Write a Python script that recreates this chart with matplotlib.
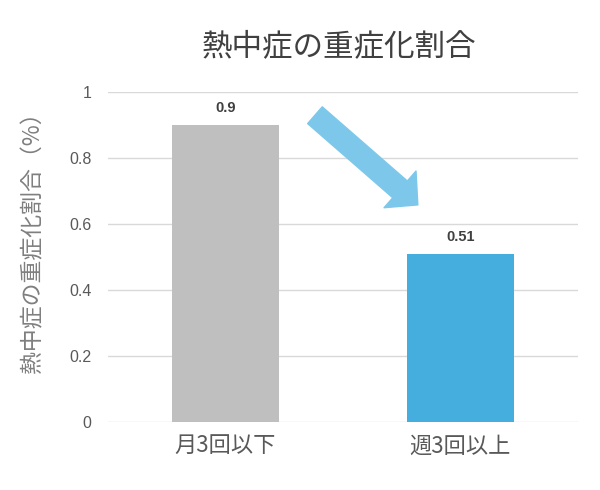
import numpy as np
import matplotlib
matplotlib.use("Agg")
import matplotlib.pyplot as plt
from matplotlib.patches import FancyArrowPatch

categories = ["月3回以下", "週3回以上"]
values = [0.9, 0.51]
value_labels = ["0.9", "0.51"]
bar_colors = ["#BFBFBF", "#45AEDF"]
yticks = [0, 0.2, 0.4, 0.6, 0.8, 1]
ytick_labels = ["0", "0.2", "0.4", "0.6", "0.8", "1"]
title = "熱中症の重症化割合"
ylabel = "熱中症の重症化割合（%）"

jp = ["Noto Sans CJK JP", "DejaVu Sans"]
num = ["Liberation Sans", "DejaVu Sans"]

fig = plt.figure(figsize=(6, 4.9), dpi=100)
ax = fig.add_axes([0.18, 0.139, 0.783, 0.673])

x = np.arange(len(categories))
ax.bar(x, values, width=0.455, color=bar_colors, zorder=3)
for xi, v, lab in zip(x, values, value_labels):
    ax.text(xi, v + 0.03, lab, ha="center", va="bottom", fontsize=10.5,
            fontweight="bold", color="#404040", family=num)

ax.set_xlim(-0.5, 1.5)
ax.set_ylim(0, 1)
ax.set_yticks(yticks)
ax.set_yticklabels(ytick_labels, family=num, fontsize=11.5, color="#595959")
ax.set_xticks(x)
ax.set_xticklabels(categories, family=jp, fontsize=16, color="#595959")
ax.tick_params(axis="both", length=0)
ax.tick_params(axis="y", pad=12)
ax.tick_params(axis="x", pad=9)
ax.grid(axis="y", color="#D9D9D9", linewidth=1, zorder=0)
for s in ax.spines.values():
    s.set_visible(False)

ax.set_ylabel(ylabel, family=jp, fontsize=16.5, color="#7F7F7F")
ax.yaxis.set_label_coords(-0.135, 0.562)

fig.text(0.565, 0.904, title, ha="center", va="center", fontsize=22,
         color="#404040", family=jp)

# down arrow between the bars
arrow = FancyArrowPatch((0.381, 0.93), (0.819, 0.658),
                        arrowstyle="simple,head_length=17,head_width=35,tail_width=16",
                        mutation_scale=1, color="#7DC8EA", shrinkA=0, shrinkB=0,
                        zorder=4)
ax.add_patch(arrow)

fig.savefig("out.png", dpi=100, facecolor="white")
